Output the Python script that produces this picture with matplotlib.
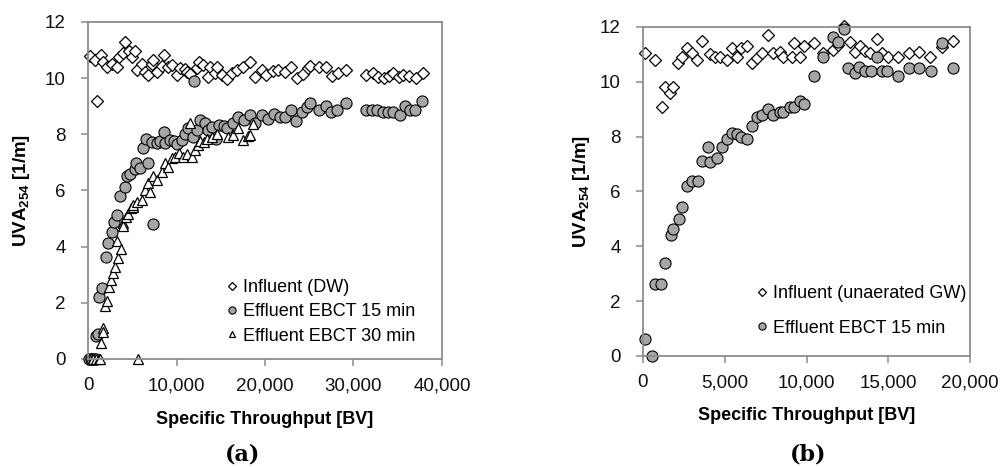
import matplotlib
matplotlib.use('Agg')
import matplotlib.pyplot as plt
from matplotlib.ticker import FuncFormatter

plt.rcParams['font.family'] = ['Liberation Sans', 'DejaVu Sans']
plt.rcParams['mathtext.fontset'] = 'custom'
plt.rcParams['mathtext.rm'] = 'Liberation Sans'
plt.rcParams['mathtext.bf'] = 'Liberation Sans:bold'

# ---- panel (a) data ----
a_inf_x = [226, 790, 1050, 1430, 1660, 2110, 2680, 3240, 3540, 3990, 4180, 4670, 4940, 5310, 5500,
           6070, 6440, 6820, 7200, 7380, 7830, 8330, 8590, 9080, 9460, 10020, 10400, 10960, 11150,
           11530, 12280, 12580, 13030, 13600, 13790, 14350, 14540, 15110, 15670, 16240, 16800,
           17550, 18310, 18870, 19630, 20100, 20850, 21510, 22260, 22900, 23580, 24260, 24900,
           25090, 26140, 26890, 27540, 28290, 29150, 31410, 32240, 32800, 33450, 34050, 34500,
           35180, 35630, 36310, 37060, 37820]
a_inf_y = [10.80, 10.64, 9.20, 10.82, 10.58, 10.41, 10.52, 10.41, 10.76, 10.88, 11.30, 10.95, 10.76,
           10.97, 10.29, 10.50, 10.23, 10.11, 10.52, 10.64, 10.23, 10.43, 10.82, 10.41, 10.47, 10.11,
           10.35, 10.31, 10.23, 10.15, 10.35, 10.58, 10.47, 10.05, 10.41, 10.17, 10.41, 10.11, 9.97,
           10.17, 10.29, 10.41, 10.58, 10.05, 10.29, 10.10, 10.25, 10.29, 10.23, 10.41, 10.00, 10.15,
           10.35, 10.43, 10.41, 10.41, 10.08, 10.20, 10.29, 10.11, 10.17, 10.05, 10.00, 10.08, 10.17,
           10.03, 10.11, 10.08, 10.00, 10.17]

a_e15_x = [100, 300, 500, 700, 900, 900, 1170, 1240, 1550, 2040, 2300, 2680, 2980, 3320, 3620, 4180,
           4370, 4750, 5310, 5400, 5880, 6250, 6550, 6820, 7200, 7310, 7830, 8140, 8590, 8700, 9270,
           9720, 10020, 10590, 10960, 11340, 11830, 11980, 12280, 12660, 13220, 13600, 13980, 14460,
           14840, 15370, 15670, 16350, 16990, 17630, 18310, 18870, 19630, 20380, 21020, 21700, 22260,
           22900, 23500, 24150, 24710, 25090, 26140, 26890, 27420, 28170, 29150, 31410, 32050, 32690,
           33300, 33930, 34500, 35250, 35820, 36390, 36950, 37710]
a_e15_y = [0, 0, 0, 0, 0, 0.82, 0.89, 2.22, 2.51, 3.62, 4.12, 4.51, 4.89, 5.13, 5.80, 6.13, 6.51,
           6.59, 6.75, 6.99, 6.79, 7.53, 7.82, 6.99, 7.74, 4.81, 7.68, 7.77, 8.09, 7.68, 7.80, 7.77,
           7.65, 7.80, 8.01, 8.21, 7.92, 9.90, 8.15, 8.51, 8.39, 8.15, 8.25, 7.82, 8.33, 8.29, 8.21,
           8.39, 8.62, 8.51, 8.69, 8.39, 8.69, 8.54, 8.72, 8.62, 8.60, 8.88, 8.48, 8.80, 8.96, 9.10,
           8.88, 9.00, 8.80, 8.88, 9.12, 8.88, 8.88, 8.88, 8.80, 8.80, 8.80, 8.69, 9.00, 8.88, 8.88, 9.19]

a_e30_x = [600, 900, 1200, 1400, 5690, 1430, 1660, 1730, 1920, 2110, 2410, 2600, 2860, 3050, 3240,
           3430, 3700, 3920, 3990, 4290, 4560, 4830, 5050, 5120, 5500, 6070, 6440, 6820, 7010, 7380,
           7760, 8330, 8700, 9080, 9460, 9830, 10320, 10770, 11150, 11530, 11720, 12090, 12470,
           12660, 13110, 13410, 13980, 14540, 15860, 16420, 16990, 17550, 18120, 18310, 18680]
a_e30_y = [0, 0, 0, 0, 0, 0.58, 1.09, 0.97, 1.89, 2.08, 2.58, 2.81, 3.07, 3.28, 4.21, 3.58, 3.90,
           4.85, 4.73, 5.06, 5.18, 5.36, 5.42, 5.48, 5.60, 5.66, 6.01, 6.25, 5.96, 6.51, 6.37, 6.67,
           6.97, 6.85, 7.14, 7.20, 7.32, 7.20, 7.30, 8.41, 7.20, 7.44, 7.62, 7.77, 7.74, 7.85, 7.91,
           8.01, 7.91, 7.97, 8.21, 7.80, 7.94, 7.97, 8.36]

# ---- panel (b) data ----
b_inf_x = [120, 734, 1140, 1345, 1651, 1815, 2160, 2365, 2670, 2977, 3323, 3588, 4098, 4404, 4710,
           5118, 5424, 5771, 5975, 6342, 6648, 6994, 7260, 7668, 7933, 8380, 8584, 9094, 9235, 9602,
           9847, 10458, 11030, 11600, 11947, 12290, 12660, 12966, 13272, 13578, 13884, 14292, 14598,
           15006, 15618, 16291, 16902, 17553, 18268, 18941]
b_inf_y = [11.05, 10.80, 9.09, 9.82, 9.58, 9.80, 10.67, 10.92, 11.22, 11.04, 10.80, 11.50, 11.01,
           10.92, 10.92, 10.80, 11.22, 10.92, 11.22, 11.31, 10.70, 10.86, 11.04, 11.71, 11.04, 11.10,
           10.89, 10.89, 11.43, 10.89, 11.31, 11.40, 11.04, 11.16, 11.34, 12.03, 11.46, 11.10, 11.31,
           11.13, 11.04, 11.58, 11.06, 10.89, 10.89, 11.04, 11.10, 10.89, 11.28, 11.50]

b_e15_x = [122, 530, 734, 1100, 1345, 1692, 1855, 2223, 2365, 2670, 2977, 3343, 3588, 3996, 4098,
           4506, 4812, 5118, 5424, 5771, 5975, 6383, 6648, 6994, 7260, 7668, 7933, 8380, 8584, 8992,
           9235, 9602, 9847, 10458, 10988, 11600, 11947, 12290, 12560, 12966, 13231, 13578, 13925,
           14292, 14598, 14945, 15618, 16291, 16902, 17594, 18268, 18941]
b_e15_y = [0.61, 0.0, 2.61, 2.61, 3.40, 4.41, 4.62, 4.98, 5.42, 6.20, 6.39, 6.39, 7.11, 7.61, 7.09,
           7.21, 7.61, 7.90, 8.12, 8.10, 8.00, 7.90, 8.39, 8.71, 8.79, 9.00, 8.79, 8.91, 8.91, 9.07,
           9.09, 9.31, 9.19, 10.21, 10.89, 11.62, 11.46, 11.91, 10.51, 10.31, 10.53, 10.41, 10.41,
           10.89, 10.41, 10.41, 10.21, 10.49, 10.49, 10.41, 11.40, 10.49]

GREY = '#8c8c8c'
CIRC = '#a6a6a6'


def style_axes(ax, xmax, xstep):
    ax.set_xlim(0, xmax)
    ax.set_ylim(0, 12)
    ax.set_xticks(range(0, xmax + 1, xstep))
    ax.set_yticks(range(0, 13, 2))
    ax.xaxis.set_major_formatter(FuncFormatter(lambda v, p: '{:,.0f}'.format(v)))
    for s in ax.spines.values():
        s.set_color(GREY)
        s.set_linewidth(1.3)
    ax.tick_params(direction='out', length=5, width=1.1, color=GREY,
                   labelsize=13.5, labelcolor='#111111')
    ax.tick_params(axis='x', pad=8)
    ax.tick_params(axis='y', pad=11)
    ax.set_xlabel('Specific Throughput [BV]', fontsize=13, fontweight='bold')
    ax.set_ylabel(r'UVA$_{\mathbf{254}}$ [1/m]', fontsize=13.5, fontweight='bold')


fig = plt.figure(figsize=(10, 4.67), dpi=100)
ax1 = fig.add_axes([0.088, 0.2313, 0.354, 0.7216])
ax2 = fig.add_axes([0.643, 0.2377, 0.327, 0.7045])

# (a)
ax1.plot(a_inf_x, a_inf_y, 'D', ms=6.5, mfc='white', mec='black', mew=0.9, label='Influent (DW)', clip_on=False)
ax1.plot(a_e15_x, a_e15_y, 'o', ms=8, mfc=CIRC, mec='black', mew=0.8, label='Effluent EBCT 15 min', clip_on=False)
ax1.plot(a_e30_x, a_e30_y, '^', ms=7.5, mfc='white', mec='black', mew=0.9, label='Effluent EBCT 30 min', clip_on=False)
style_axes(ax1, 40000, 10000)
ax1.legend(loc='lower right', bbox_to_anchor=(0.965, 0.0), frameon=False, fontsize=13,
           markerscale=0.65, handlelength=0.6, handletextpad=0.3, labelspacing=0.4, borderpad=0.3)
ax1.xaxis.set_label_coords(0.5, -0.155)
ax1.yaxis.set_label_coords(-0.158, 0.5)

# (b)
ax2.plot(b_inf_x, b_inf_y, 'D', ms=6.5, mfc='white', mec='black', mew=0.9, label='Influent (unaerated GW)', clip_on=False)
ax2.plot(b_e15_x, b_e15_y, 'o', ms=8, mfc=CIRC, mec='black', mew=0.8, label='Effluent EBCT 15 min', clip_on=False)
style_axes(ax2, 20000, 5000)
ax2.legend(loc='lower right', bbox_to_anchor=(1.034, 0.015), frameon=False, fontsize=13,
           markerscale=0.65, handlelength=0.6, handletextpad=0.3, labelspacing=0.95, borderpad=0.3)
ax2.xaxis.set_label_coords(0.5, -0.155)
ax2.yaxis.set_label_coords(-0.156, 0.5)

fig.text(0.243, 1 - 455 / 467, '(a)', ha='center', va='center', fontsize=16,
         fontweight='bold', family=['DejaVu Serif', 'Liberation Serif'])
fig.text(0.808, 1 - 455 / 467, '(b)', ha='center', va='center', fontsize=16,
         fontweight='bold', family=['DejaVu Serif', 'Liberation Serif'])

fig.savefig('out.png', dpi=100)
